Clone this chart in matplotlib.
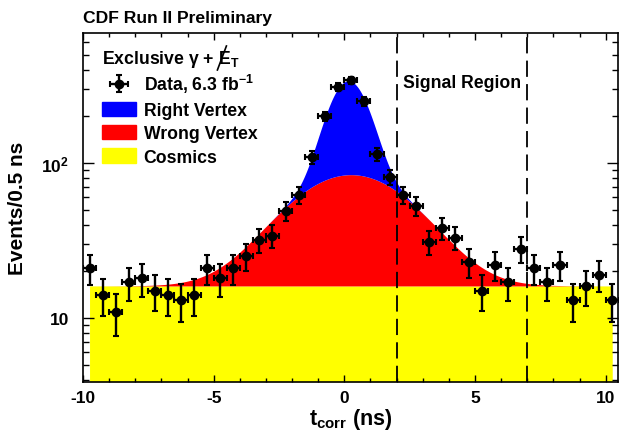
import matplotlib
matplotlib.use("Agg")
import matplotlib.pyplot as plt
import numpy as np
from matplotlib.lines import Line2D
from matplotlib.patches import Patch
from matplotlib.ticker import MultipleLocator, FixedLocator, NullFormatter

plt.rcParams['font.family'] = ['Liberation Sans', 'DejaVu Sans']
plt.rcParams['font.weight'] = 'bold'
plt.rcParams['axes.unicode_minus'] = False
plt.rcParams['mathtext.fontset'] = 'custom'
plt.rcParams['mathtext.rm'] = 'Liberation Sans:bold'
plt.rcParams['mathtext.bf'] = 'Liberation Sans:bold'
plt.rcParams['mathtext.it'] = 'Liberation Sans:bold'
plt.rcParams['mathtext.default'] = 'bf'

# data: events per 0.5 ns bin
t_bins = np.arange(-9.75, 10.26, 0.5)
events = np.array([21, 14, 11, 17, 18, 15, 14, 13, 14, 21, 18, 21, 25, 32, 34, 49,
                   62, 109, 200, 310, 343, 250, 114, 81, 62, 53, 31, 38, 33, 23,
                   15, 22, 17, 28, 21, 17, 22, 13, 16, 19, 13])

# fitted components
cosmics_level = 16.1
wrong_amp, wrong_mean, wrong_sigma = 68.0, 0.25, 2.2
right_amp, right_mean, right_sigma = 255.0, 0.15, 0.72

signal_lo, signal_hi = 2.0, 7.0

t = np.linspace(t_bins[0], t_bins[-1], 800)
cosmics = np.full_like(t, cosmics_level)
wrong = cosmics + wrong_amp * np.exp(-0.5 * ((t - wrong_mean) / wrong_sigma) ** 2)
right = wrong + right_amp * np.exp(-0.5 * ((t - right_mean) / right_sigma) ** 2)

fig = plt.figure(figsize=(6.19, 4.35), dpi=100)
ax = fig.add_axes([83 / 619, (435 - 382.7) / 435, 535 / 619, 348.7 / 435])

ymin, ymax = 3.88, 690
ax.fill_between(t, ymin, cosmics, color='#ffff00', lw=0)
ax.fill_between(t, cosmics, wrong, color='#ff0000', lw=0)
ax.fill_between(t, wrong, right, color='#0000ff', lw=0)

data = ax.errorbar(t_bins, events, xerr=0.25, yerr=np.sqrt(events), fmt='o',
                   color='black', ms=6, elinewidth=1.7, capsize=2.5, capthick=1.5,
                   zorder=5)

for xv in (signal_lo, signal_hi):
    ax.axvline(xv, color='black', lw=1.3, dashes=(9, 4), zorder=4)
ax.text(2.24, 0.857, 'Signal Region', transform=ax.get_xaxis_transform(),
        fontsize=12.7, fontweight='bold', va='center', ha='left')

ax.set_yscale('log')
ax.set_xlim(-10, 10.47)
ax.set_ylim(ymin, ymax)
ax.xaxis.set_major_locator(MultipleLocator(5))
ax.xaxis.set_minor_locator(MultipleLocator(1))
ax.yaxis.set_major_locator(FixedLocator([10, 100]))
ax.set_yticklabels(['10', r'$10^{2}$'])
ax.yaxis.set_minor_formatter(NullFormatter())
ax.tick_params(which='both', direction='in', top=True, right=True, labelsize=12.5)
ax.tick_params(axis='x', which='major', length=5, width=1, pad=6)
ax.tick_params(axis='x', which='minor', length=3, width=1)
ax.tick_params(axis='y', which='major', length=8, width=1, pad=10)
ax.tick_params(axis='y', which='minor', length=4, width=1)
for s in ax.spines.values():
    s.set_linewidth(1.2)

ax.set_xlabel(r't$_{\mathbf{corr}}$ (ns)', fontsize=15.5, fontweight='bold', labelpad=1)
ax.set_ylabel('Events/0.5 ns', fontsize=15, fontweight='bold')
ax.yaxis.set_label_coords(-0.104, 0.5)

fig.text(83 / 619, 1 - 18 / 435, 'CDF Run II Preliminary', fontsize=12.6,
         fontweight='bold', va='center', ha='left')

# legend header with slashed E_T
hdr = ax.text(0.0355, 0.914, r'Exclusive $\gamma$ + E$_{\mathbf{T}}$',
              transform=ax.transAxes, fontsize=12.7, fontweight='bold',
              va='baseline', ha='left')

handles = [data, Patch(color='#0000ff'), Patch(color='#ff0000'), Patch(color='#ffff00')]
labels = [r'Data, 6.3 fb$^{-1}$', 'Right Vertex', 'Wrong Vertex', 'Cosmics']
leg = ax.legend(handles, labels, loc='upper left', bbox_to_anchor=(0.036, 0.888),
                frameon=False, fontsize=12.7, handlelength=1.9, handleheight=0.85,
                handletextpad=0.45, labelspacing=0.36, borderpad=0, borderaxespad=0)

# slash through the E of the header
fig.canvas.draw()
r = fig.canvas.get_renderer()
bb = hdr.get_window_extent(r)
px_e = bb.x1 - 21
slash = Line2D([px_e - 1, px_e + 8], [bb.y0 - 1, bb.y1 + 2], color='black', lw=1.2,
               transform=None)
fig.add_artist(slash)

fig.savefig('out.png', dpi=100)
